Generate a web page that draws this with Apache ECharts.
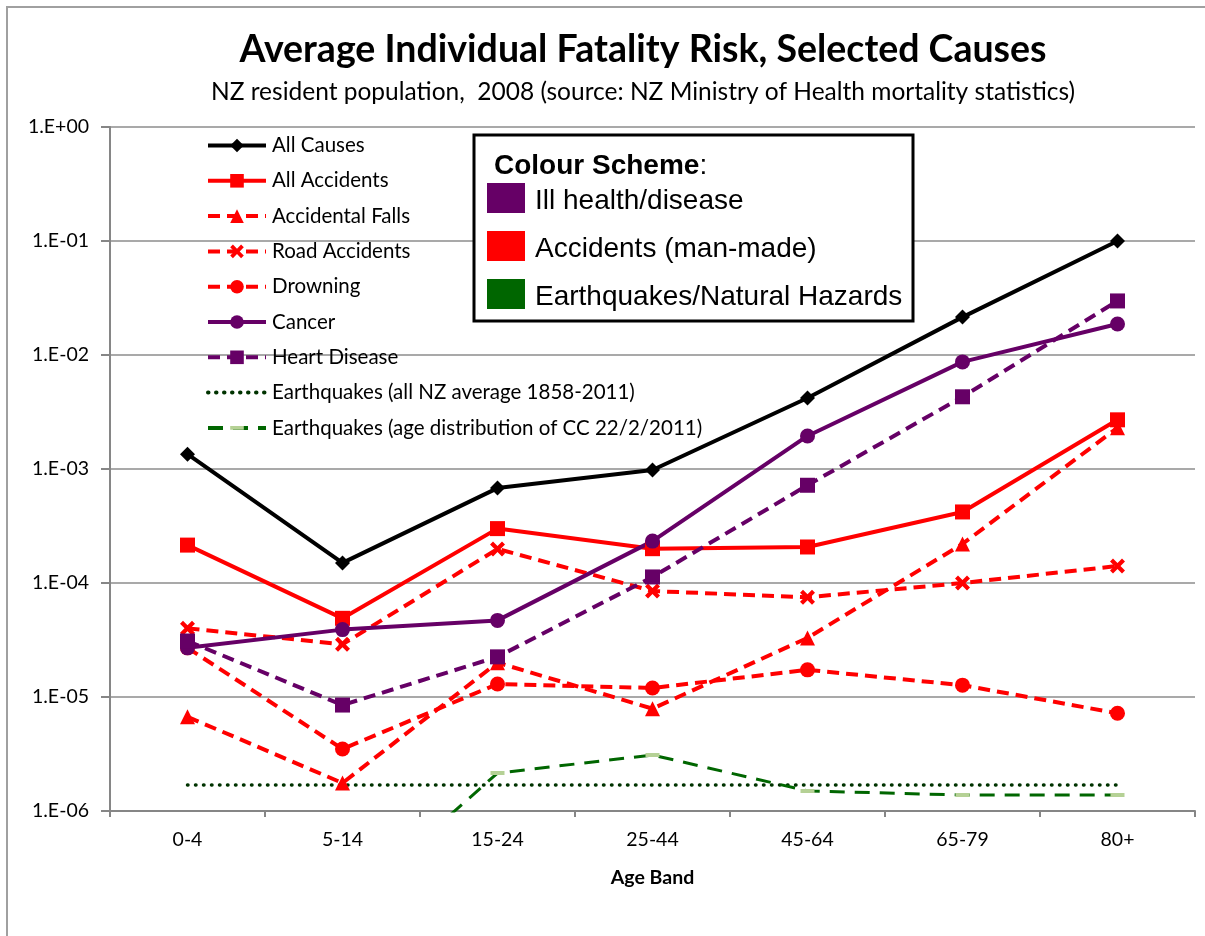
<!DOCTYPE html>
<html>
<head>
<meta charset="utf-8">
<title>Average Individual Fatality Risk, Selected Causes</title>
<script src="https://cdn.jsdelivr.net/npm/echarts@6/dist/echarts.min.js"></script>
<style>
  html, body { margin: 0; padding: 0; background: #fff; }
  #chart { width: 1205px; height: 936px; }
</style>
</head>
<body>
<div id="chart"></div>
<script>
// Age bands (x categories)
const ageBands = ['0-4', '5-14', '15-24', '25-44', '45-64', '65-79', '80+'];

// Annual individual fatality risk by age band, NZ 2008
const allCauses      = [1.35e-3, 1.5e-4, 6.8e-4, 9.8e-4, 4.2e-3, 2.15e-2, 1.0e-1];
const allAccidents   = [2.15e-4, 4.9e-5, 3.0e-4, 2.0e-4, 2.07e-4, 4.2e-4, 2.7e-3];
const accidentalFalls= [6.7e-6, 1.76e-6, 2.0e-5, 7.9e-6, 3.3e-5, 2.2e-4, 2.3e-3];
const roadAccidents  = [4.0e-5, 2.9e-5, 1.99e-4, 8.5e-5, 7.5e-5, 1.0e-4, 1.41e-4];
const drowning       = [2.7e-5, 3.5e-6, 1.3e-5, 1.2e-5, 1.73e-5, 1.27e-5, 7.2e-6];
const cancer         = [2.7e-5, 3.9e-5, 4.7e-5, 2.33e-4, 1.95e-3, 8.7e-3, 1.87e-2];
const heartDisease   = [3.1e-5, 8.5e-6, 2.25e-5, 1.13e-4, 7.2e-4, 4.3e-3, 2.98e-2];
const quakeAverage   = [1.69e-6, 1.69e-6, 1.69e-6, 1.69e-6, 1.69e-6, 1.69e-6, 1.69e-6];
const quakeCC2011    = [1.0e-7, 1.35e-7, 2.15e-6, 3.1e-6, 1.5e-6, 1.38e-6, 1.38e-6];

// Y axis ticks (decades)
const yTickLabels = ['1.E-06', '1.E-05', '1.E-04', '1.E-03', '1.E-02', '1.E-01', '1.E+00'];

// Colour scheme key
const schemeItems = ['Ill health/disease', 'Accidents (man-made)', 'Earthquakes/Natural Hazards'];
const schemeColors = ['#660066', '#FF0000', '#006600'];

const RED = '#FF0000', PURPLE = '#660066', BLACK = '#000000';
const CROSS = 'path://M2,0 L5,3 L8,0 L10,2 L7,5 L10,8 L8,10 L5,7 L2,10 L0,8 L3,5 L0,2 Z';
// flat dash marker inside a square box (zero-length anchors keep the box square)
const DASH_MARK = 'path://M0,5 H14 V9 H0 Z M7,0 L7.001,0 M7,14 L7.001,14';
const FONT = 'Lato, "Open Sans", sans-serif';
const ARIAL = '"Liberation Sans", Arial, sans-serif';

function lineSeries(name, data, color, symbol, size, dashed) {
  return {
    name, type: 'line', data, symbol, symbolSize: size,
    showAllSymbol: true,
    itemStyle: { color, borderWidth: 0 },
    lineStyle: { color, width: 4, type: dashed ? [12, 7] : 'solid' },
    emphasis: { disabled: true },
    animation: false
  };
}

const series = [
  lineSeries('All Causes', allCauses, BLACK, 'diamond', 15, false),
  lineSeries('All Accidents', allAccidents, RED, 'rect', 15, false),
  lineSeries('Accidental Falls', accidentalFalls, RED, 'triangle', 15, true),
  lineSeries('Road Accidents', roadAccidents, RED, CROSS, 15, true),
  lineSeries('Drowning', drowning, RED, 'circle', 15, true),
  lineSeries('Cancer', cancer, PURPLE, 'circle', 15, false),
  lineSeries('Heart Disease', heartDisease, PURPLE, 'rect', 15, true),
  {
    name: 'Earthquakes (all NZ average 1858-2011)', type: 'line', data: quakeAverage,
    symbol: 'none',
    itemStyle: { color: '#003300' },
    lineStyle: { color: '#003300', width: 3.5, type: [0.5, 7.5], cap: 'round' },
    emphasis: { disabled: true }, animation: false
  },
  {
    name: 'Earthquakes (age distribution of CC 22/2/2011)', type: 'line', data: quakeCC2011,
    symbol: DASH_MARK, symbolSize: 14, showAllSymbol: true,
    itemStyle: { color: '#B5D195' },
    lineStyle: { color: '#006600', width: 3, type: [15, 10] },
    emphasis: { disabled: true }, animation: false
  }
];

const chart = echarts.init(document.getElementById('chart'), null, { renderer: 'canvas' });

const graphic = [
  // outer chart frame
  { type: 'rect', shape: { x: 7, y: 7, width: 1210, height: 940 },
    style: { fill: 'none', stroke: '#A0A0A0', lineWidth: 2 }, silent: true, z: -10 },
  // colour scheme box
  { type: 'rect', shape: { x: 474, y: 135, width: 439, height: 186 },
    style: { fill: '#fff', stroke: '#000', lineWidth: 3 }, z: 100 },
  { type: 'text', x: 494, y: 166, z: 101,
    style: { text: '{b|Colour Scheme}:', textVerticalAlign: 'middle',
      font: '28px ' + ARIAL, fill: '#000',
      rich: { b: { fontWeight: 'bold', fontSize: 28, fontFamily: ARIAL } } } }
];
schemeItems.forEach((label, i) => {
  const cy = 198 + i * 48;
  graphic.push({ type: 'rect', shape: { x: 487, y: cy - 15, width: 38, height: 30 },
    style: { fill: schemeColors[i] }, z: 101 });
  graphic.push({ type: 'text', x: 535, y: cy + 3, z: 101,
    style: { text: label, textVerticalAlign: 'middle',
      font: '28px ' + ARIAL, fill: '#000' } });
});

const legendData = series.map(s => {
  const item = { name: s.name };
  if (s.symbol === 'none') item.itemStyle = { color: 'rgba(0,0,0,0)' };
  return item;
});

chart.setOption({
  backgroundColor: '#fff',
  animation: false,
  title: [
    { text: 'Average Individual Fatality Risk, Selected Causes', left: 638, top: 26, textAlign: 'center',
      textStyle: { fontFamily: FONT, fontWeight: 'bold', fontSize: 37.5, color: '#000' } },
    { text: 'NZ resident population,  2008 (source: NZ Ministry of Health mortality statistics)',
      left: 638, top: 75, textAlign: 'center',
      textStyle: { fontFamily: FONT, fontWeight: 'normal', fontSize: 24.5, color: '#000' } }
  ],
  legend: {
    orient: 'vertical', left: 201, top: 130,
    itemWidth: 58, itemHeight: 17, itemGap: 14.3,
    selectedMode: false,
    lineStyle: { width: 4 },
    textStyle: { fontFamily: FONT, fontSize: 20.5, color: '#000', padding: [0, 0, 0, 1] },
    data: legendData
  },
  grid: { left: 110, right: 10, top: 127, bottom: 125, containLabel: false },
  xAxis: {
    type: 'category', data: ageBands, boundaryGap: true,
    name: 'Age Band', nameLocation: 'middle', nameGap: 57,
    nameTextStyle: { fontFamily: FONT, fontWeight: 'bold', fontSize: 19.5, color: '#000' },
    axisLine: { lineStyle: { color: '#868686', width: 2 } },
    axisTick: { show: true, length: 6, lineStyle: { color: '#868686', width: 2 } },
    axisLabel: { fontFamily: FONT, fontSize: 19.5, color: '#000', margin: 19 },
    splitLine: { show: false }
  },
  yAxis: {
    type: 'log', logBase: 10, min: 1e-6, max: 1,
    axisLine: { show: true, lineStyle: { color: '#868686', width: 2 } },
    axisTick: { show: true, length: 9, inside: false, lineStyle: { color: '#868686', width: 2 } },
    axisLabel: {
      fontFamily: FONT, fontSize: 19.5, color: '#000', margin: 21,
      formatter: v => yTickLabels[Math.round(Math.log10(v)) + 6]
    },
    splitLine: { show: true, lineStyle: { color: '#8C8C8C', width: 1.5 } },
    minorTick: { show: false }
  },
  graphic,
  series
});
</script>
</body>
</html>
